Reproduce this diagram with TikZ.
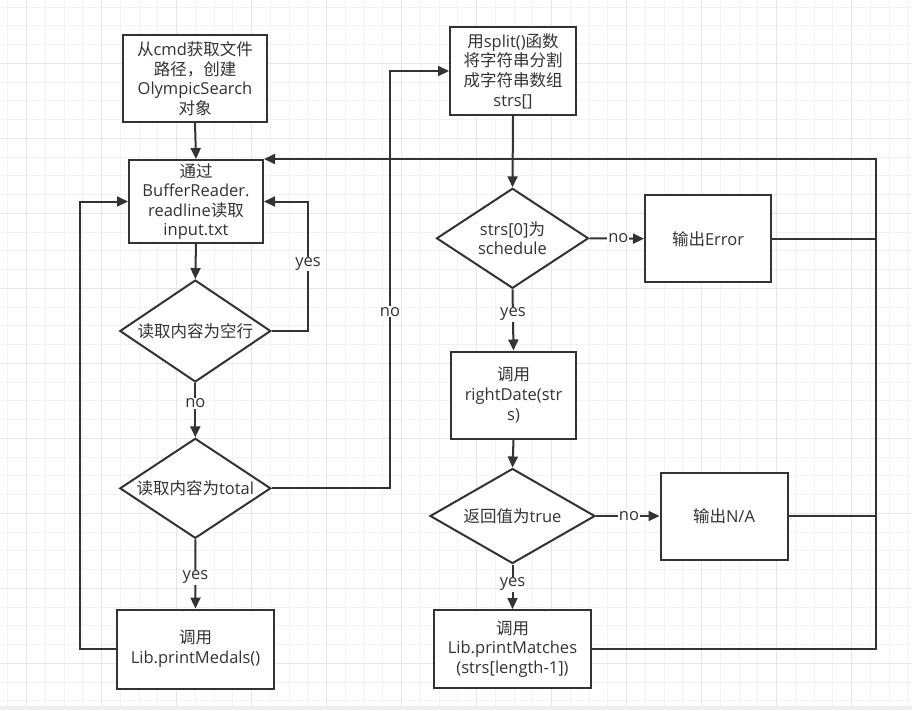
\documentclass[tikz,border=0pt]{standalone}
\usepackage{fontspec}
\setmainfont{Open Sans}
\newfontfamily\cjkfont{Noto Sans CJK SC}
\newcommand\zhs[1]{{\cjkfont #1}}
\usetikzlibrary{shapes.geometric,arrows.meta}
\definecolor{ink}{HTML}{333333}
\definecolor{gridminor}{HTML}{F2F2F2}
\definecolor{gridmajor}{HTML}{E6E6E6}
\definecolor{stripgray}{HTML}{EFEFEF}
\begin{document}
\begin{tikzpicture}[x=1pt,y=-1pt,
  every node/.style={font=\fontsize{16.5}{19.6}\selectfont, text=ink},
  box/.style={draw=ink, line width=2pt, rectangle, inner sep=0pt, align=center, fill=white},
  dia/.style={draw=ink, line width=2pt, diamond, inner sep=0pt, fill=white},
  txt/.style={align=center, inner sep=0pt},
  lbl/.style={fill=white, inner sep=1pt},
  conn/.style={draw=ink, line width=2pt},
  arr/.style={conn, -{Triangle[length=11pt,width=10pt]}},
  gmin/.style={draw=gridminor, line width=1pt},
  gmaj/.style={draw=gridmajor, line width=1pt}]
\useasboundingbox (0,0) rectangle (912,710);
\fill[white] (0,0) rectangle (912,710);
% grid
\foreach \i in {0,...,48} { \draw[gmin] ({7.95+18.75*\i},0) -- ({7.95+18.75*\i},705.5); }
\foreach \i in {0,...,37} { \draw[gmin] (0,{7.05+18.75*\i}) -- (912,{7.05+18.75*\i}); }
\foreach \i in {0,...,11} { \draw[gmaj] ({26.7+75*\i},0) -- ({26.7+75*\i},705.5); }
\foreach \i in {0,...,8} { \draw[gmaj] (0,{63.3+75*\i}) -- (912,{63.3+75*\i}); }
\fill[stripgray] (0,705.5) rectangle (912,710);

% nodes
\node[box, minimum width=144pt, minimum height=87pt] (A) at (195,78.5)
  {\zhs{从}cmd\zhs{获取文件}\\\zhs{路径，创建}\\OlympicSearch\\\zhs{对象}};
\node[box, minimum width=134pt, minimum height=83pt] (B) at (196,201.5)
  {\zhs{通过}\\BufferReader.\\readline\zhs{读取}\\input.txt};
\node[dia, minimum width=151pt, minimum height=102pt] (D1) at (195.3,331) {};
\node[txt] (D1t) at (D1) {\zhs{读取内容为空行}};
\node[dia, minimum width=151pt, minimum height=100pt] (D2) at (195.3,488.3) {};
\node[txt] (D2t) at (D2) {\zhs{读取内容为}total};
\node[box, minimum width=157pt, minimum height=79pt] (C) at (195.5,649)
  {\zhs{调用}\\Lib.printMedals()};
\node[box, minimum width=126pt, minimum height=88pt] (E) at (513,71)
  {\zhs{用}split()\zhs{函数}\\\zhs{将字符串分割}\\\zhs{成字符串数组}\\strs[]};
\node[dia, minimum width=152pt, minimum height=100pt] (D3) at (512.5,238.3) {};
\node[txt] (D3t) at (D3) {strs[0]\zhs{为}\\schedule};
\node[box, minimum width=126pt, minimum height=87pt] (Err) at (708,238.7)
  {\zhs{输出}Error};
\node[box, minimum width=125pt, minimum height=87pt] (F) at (513.5,395)
  {\zhs{调用}\\rightDate(str\\s)};
\node[dia, minimum width=165pt, minimum height=95pt] (D4) at (512.5,516) {};
\node[txt] (D4t) at (D4) {\zhs{返回值为}true};
\node[box, minimum width=127pt, minimum height=87pt] (NA) at (724,516)
  {\zhs{输出}N/A};
\node[box, minimum width=157pt, minimum height=78pt] (G) at (512.5,649)
  {\zhs{调用}\\Lib.printMatches\\(strs[length-1])};

% helper coordinates
\coordinate (xL) at (80,0);
\coordinate (xY) at (308,0);
\coordinate (xN) at (390,0);
\coordinate (xR) at (876,0);

% connectors
\draw[arr] (A.south) -- (B.north);
\draw[arr] (B.south) -- (D1.north);
\draw[arr] (D1.east) -| (xY |- B.east) -- (B.east);
\node[lbl] (yes1) at (308,264) {yes};
\draw[arr] (D1.south) -- node[lbl, pos=0.37] (no1) {no} (D2.north);
\draw[arr] (D2.south) -- node[lbl, pos=0.55] (yes2) {yes} (C.north);
\draw[arr] (C.west) -| (xL |- B.west) -- (B.west);
\draw[arr] (D2.east) -| (xN |- E.west) -- (E.west);
\node[lbl] (no2) at (390,311.7) {no};
\draw[arr] (E.south) -- (D3.north);
\draw[arr] (D3.east) -- node[lbl, pos=0.53] (no3) {no} (Err.west);
\draw[arr] (D3.south) -- node[lbl, pos=0.41] (yes3) {yes} (F.north);
\draw[arr] (F.south) -- (D4.north);
\draw[arr] (D4.east) -- node[lbl, pos=0.52] (no4) {no} (NA.west);
\draw[arr] (D4.south) -- node[lbl, pos=0.44] (yes4) {yes} (G.north);
\draw[conn] (Err.east) -- (xR |- Err.east);
\draw[conn] (NA.east) -- (xR |- NA.east);
\draw[arr] (G.east) -| (xR |- B.north east) -- (B.north east);
\end{tikzpicture}
\end{document}
